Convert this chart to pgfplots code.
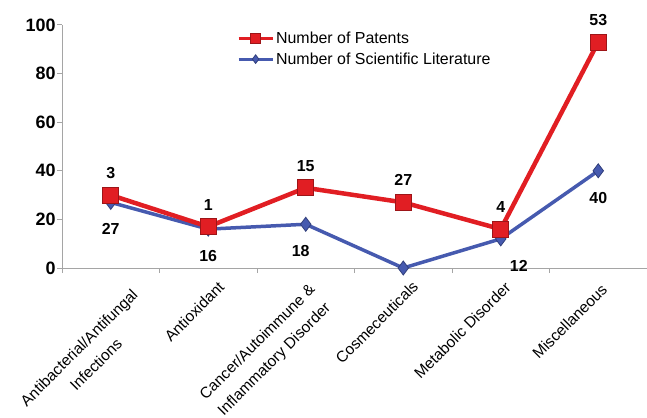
\documentclass[border=0pt]{standalone}
\usepackage{fontspec}
\setmainfont{Liberation Sans}
\usepackage{pgfplots}
\pgfplotsset{compat=1.18}
\definecolor{pred}{RGB}{225,30,35}
\definecolor{pblue}{RGB}{70,90,175}
\definecolor{axgray}{RGB}{165,165,165}
\begin{document}
\begin{tikzpicture}[lbl/.style={font=\fontsize{15.5}{24}\selectfont, align=center, rotate=45, anchor=north east, inner sep=1bp}]
\useasboundingbox (-62bp,-150bp) rectangle (585bp,268bp);
\begin{axis}[
  scale only axis, width=585bp, height=243bp,
  xmin=-0.5, xmax=5.5, ymin=0, ymax=100,
  axis lines*=left,
  axis line style={axgray, line width=1bp},
  xtick={0,...,5},
  xticklabels={},
  ytick={0,20,...,100},
  minor xtick={-0.5,0.5,...,5.5},
  minor ytick={0,20,...,100},
  major tick length=0pt, minor tick length=5bp, tick align=outside,
  tick style={axgray, line width=1bp},
  yticklabel style={font=\fontsize{18}{20}\selectfont\bfseries, xshift=-3bp},
  /pgf/number format/assume math mode=true,
  clip=false,
  reverse legend,
  legend style={at={(0.299,0.982)}, anchor=north west, draw=none, fill=none,
     font=\fontsize{16}{19}\selectfont, inner sep=0pt, row sep=4bp,
     /tikz/every even column/.append style={column sep=6bp}, cells={anchor=west}},
  legend image code/.code={\draw[mark repeat=2, mark phase=2, line width=3bp, every mark/.append style={scale=0.62}] plot coordinates {(0bp,0bp) (17bp,0bp) (34bp,0bp)};},
]
\addplot[pblue, line width=3.5bp, mark=diamond*, mark size=7bp,
  mark options={fill=pblue, draw=pblue!70!black, line width=0.8bp},
  nodes near coords, point meta=explicit symbolic,
  visualization depends on={value \thisrow{dx}\as\dx},
  every node near coord/.append style={font=\fontsize{16}{18}\selectfont\bfseries, black, anchor=center, yshift=-27bp, xshift=\dx bp}]
  table[x=x, y=y, meta=lab] {
x y lab dx
0 27 27 0
1 16 16 0
2 18 18 -5
3 0 {} 0
4 12 12 18
5 40 40 0
};
\addlegendentry{Number of Scientific Literature}
\addplot[pred, line width=4.5bp, mark=square*, mark size=8bp,
  mark options={fill=pred, draw=pred!70!black, line width=0.8bp},
  nodes near coords, point meta=explicit symbolic,
  every node near coord/.append style={font=\fontsize{16}{18}\selectfont\bfseries, black, anchor=center, yshift=22bp}]
  coordinates {(0,30)[3] (1,17)[1] (2,33)[15] (3,27)[27] (4,16)[4] (5,93)[53]};
\addlegendentry{Number of Patents}
\node[xshift=20bp, yshift=-18bp, lbl] at (axis cs:0,0) {Antibacterial/Antifungal\\Infections};
\node[xshift=9bp, yshift=-11bp, lbl] at (axis cs:1,0) {Antioxidant};
\node[xshift=2bp, yshift=-13bp, lbl] at (axis cs:2,0) {Cancer/Autoimmune \&\\Inflammatory Disorder};
\node[xshift=8bp, yshift=-10bp, lbl] at (axis cs:3,0) {Cosmeceuticals};
\node[xshift=3bp, yshift=-11bp, lbl] at (axis cs:4,0) {Metabolic Disorder};
\node[xshift=2bp, yshift=-13bp, lbl] at (axis cs:5,0) {Miscellaneous};
\end{axis}
\end{tikzpicture}
\end{document}
